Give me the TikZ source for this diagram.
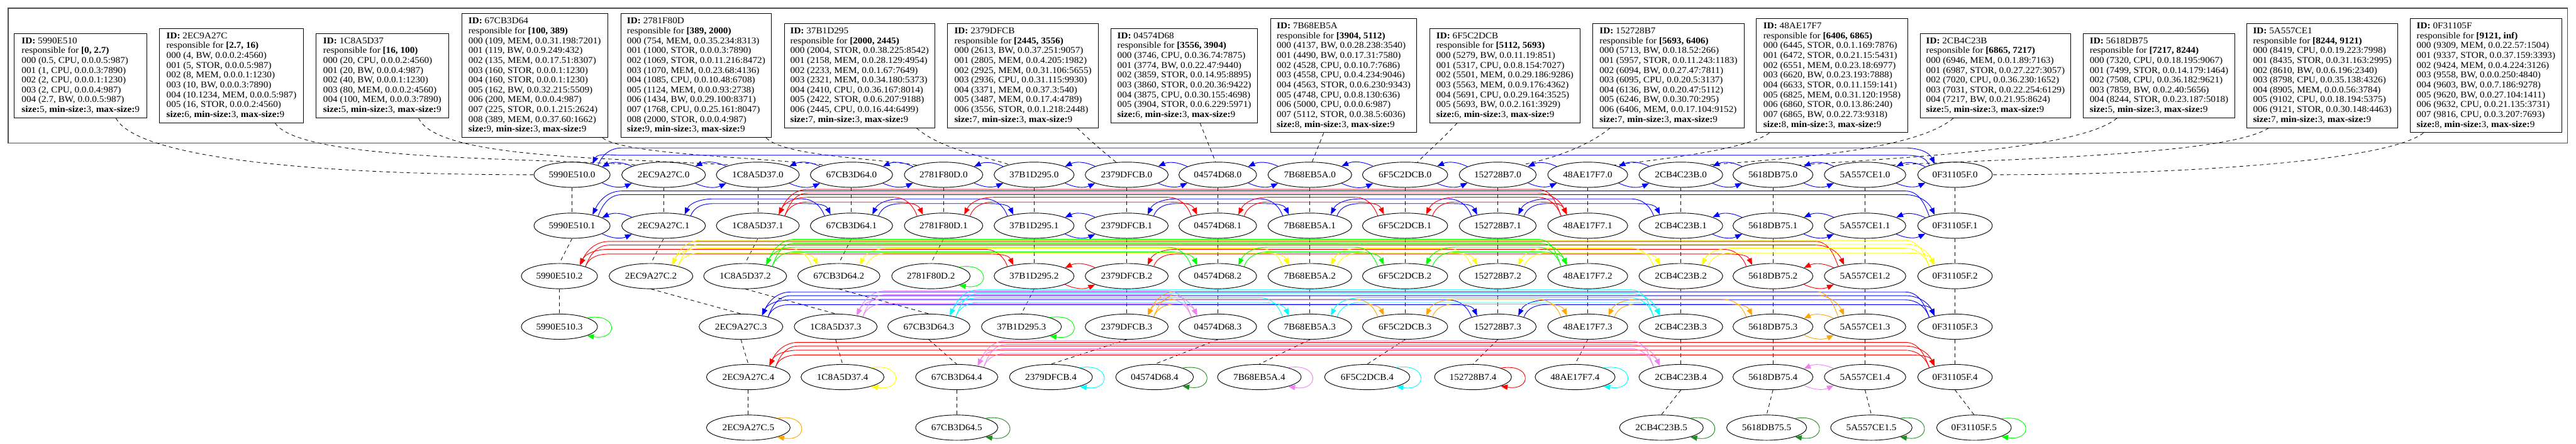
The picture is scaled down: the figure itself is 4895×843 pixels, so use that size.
\documentclass[tikz,border=0pt]{standalone}
\usepackage{fontspec}
\setmainfont{Liberation Serif}[FakeStretch=1.07]
\usetikzlibrary{calc,shapes.geometric,arrows.meta}
\definecolor{gvblue}{RGB}{0,0,255}
\definecolor{gvred}{RGB}{255,0,0}
\definecolor{gvyellow}{RGB}{255,255,0}
\definecolor{gvgreen}{RGB}{0,255,0}
\definecolor{gvcyan}{RGB}{0,255,255}
\definecolor{gvorange}{RGB}{255,165,0}
\definecolor{gvviolet}{RGB}{238,130,238}
\definecolor{gvforest}{RGB}{34,139,34}
\newcommand{\gfont}{\fontsize{17}{18.7}\selectfont}
\newcommand{\szl}[1]{\textbf{size:}#1, \textbf{min-size:}3, \textbf{max-size:}9}
\tikzset{
 nd/.style={ellipse, draw, line width=1.1pt, inner xsep=7pt, inner ysep=2pt, minimum height=48pt, font=\gfont},
 bx/.style={rectangle, draw, line width=1.2pt, align=left, font=\gfont, inner xsep=10pt, inner ysep=4pt},
 ed/.style={line width=1.1pt, -{Triangle[length=13pt,width=10pt]}},
 dl/.style={line width=1pt, dash pattern=on 7pt off 6pt},
 fr/.style={draw=black!70, line width=1.8pt},
}
\newcommand{\adjp}[3]{\draw[ed,#1] (#3.165) to[bend right=25] (#2.15); \draw[ed,#1] (#2.345) to[bend right=25] (#3.195);}
\newcommand{\arcR}[4]{\draw[ed,#1] (#2.20) to[out=70,in=180] ($(#2.center)+(95,#4)$) -- ($(#3.center)+(-95,#4)$) to[out=0,in=115] (#3.152);}
\newcommand{\arcL}[4]{\draw[ed,#1] (#2.160) to[out=110,in=0] ($(#2.center)+(-95,#4)$) -- ($(#3.center)+(95,#4)$) to[out=180,in=65] (#3.28);}
\newcommand{\pairc}[5]{\arcR{#1}{#2}{#3}{#4}\arcL{#1}{#3}{#2}{#5}}
\newcommand{\sloop}[2]{\draw[ed,#1] (#2.18) .. controls +(60,10) and +(60,-10) .. (#2.342);}
\begin{document}
\begin{tikzpicture}[x=1pt,y=1pt]
\useasboundingbox (0,0) rectangle (4895,843);
\draw[fr] (15.7,571.3) rectangle (4879,827.3);
% boxes
\node[bx, minimum width=252.1pt, minimum height=160.6pt] (ba) at (153.3,699.3) {\textbf{ID:} 5990E510\\responsible for \textbf{[0, 2.7)}\\000 (0.5, CPU, 0.0.0.5:987)\\001 (1, CPU, 0.0.0.3:7890)\\002 (2, CPU, 0.0.0.1:1230)\\003 (2, CPU, 0.0.0.4:987)\\004 (2.7, BW, 0.0.0.5:987)\\\szl{5}};
\node[bx, minimum width=273pt, minimum height=179.3pt] (bb) at (439.8,699.3) {\textbf{ID:} 2EC9A27C\\responsible for \textbf{[2.7, 16)}\\000 (4, BW, 0.0.0.2:4560)\\001 (5, STOR, 0.0.0.5:987)\\002 (8, MEM, 0.0.0.1:1230)\\003 (10, BW, 0.0.0.3:7890)\\004 (10.1234, MEM, 0.0.0.5:987)\\005 (16, STOR, 0.0.0.2:4560)\\\szl{6}};
\node[bx, minimum width=252pt, minimum height=160.6pt] (bc) at (726.4,699.3) {\textbf{ID:} 1C8A5D37\\responsible for \textbf{[16, 100)}\\000 (20, CPU, 0.0.0.2:4560)\\001 (20, BW, 0.0.0.4:987)\\002 (40, BW, 0.0.0.1:1230)\\003 (80, MEM, 0.0.0.2:4560)\\004 (100, MEM, 0.0.0.3:7890)\\\szl{5}};
\node[bx, minimum width=277.2pt, minimum height=235.4pt] (bd) at (1016,699.3) {\textbf{ID:} 67CB3D64\\responsible for \textbf{[100, 389)}\\000 (109, MEM, 0.0.31.198:7201)\\001 (119, BW, 0.0.9.249:432)\\002 (135, MEM, 0.0.17.51:8307)\\003 (160, STOR, 0.0.0.1:1230)\\004 (160, STOR, 0.0.0.1:1230)\\005 (162, BW, 0.0.32.215:5509)\\006 (200, MEM, 0.0.0.4:987)\\007 (225, STOR, 0.0.1.215:2624)\\008 (389, MEM, 0.0.37.60:1662)\\\szl{9}};
\node[bx, minimum width=286.1pt, minimum height=235.4pt] (be) at (1322.8,699.3) {\textbf{ID:} 2781F80D\\responsible for \textbf{[389, 2000)}\\000 (754, MEM, 0.0.35.234:8313)\\001 (1000, STOR, 0.0.0.3:7890)\\002 (1069, STOR, 0.0.11.216:8472)\\003 (1070, MEM, 0.0.23.68:4136)\\004 (1085, CPU, 0.0.10.48:6708)\\005 (1124, MEM, 0.0.0.93:2738)\\006 (1434, BW, 0.0.29.100:8371)\\007 (1768, CPU, 0.0.25.161:8047)\\008 (2000, STOR, 0.0.0.4:987)\\\szl{9}};
\node[bx, minimum width=286pt, minimum height=198pt] (bf) at (1633.4,699.3) {\textbf{ID:} 37B1D295\\responsible for \textbf{[2000, 2445)}\\000 (2004, STOR, 0.0.38.225:8542)\\001 (2158, MEM, 0.0.28.129:4954)\\002 (2233, MEM, 0.0.1.67:7649)\\003 (2321, MEM, 0.0.34.180:5373)\\004 (2410, CPU, 0.0.36.167:8014)\\005 (2422, STOR, 0.0.6.207:9188)\\006 (2445, CPU, 0.0.16.44:6499)\\\szl{7}};
\node[bx, minimum width=287pt, minimum height=198pt] (bg) at (1943.9,699.3) {\textbf{ID:} 2379DFCB\\responsible for \textbf{[2445, 3556)}\\000 (2613, BW, 0.0.37.251:9057)\\001 (2805, MEM, 0.0.4.205:1982)\\002 (2925, MEM, 0.0.31.106:5655)\\003 (2936, CPU, 0.0.31.115:9930)\\004 (3371, MEM, 0.0.37.3:540)\\005 (3487, MEM, 0.0.17.4:4789)\\006 (3556, STOR, 0.0.1.218:2448)\\\szl{7}};
\node[bx, minimum width=278.8pt, minimum height=179.3pt] (bh) at (2250.4,699.3) {\textbf{ID:} 04574D68\\responsible for \textbf{[3556, 3904)}\\000 (3746, CPU, 0.0.36.74:7875)\\001 (3774, BW, 0.0.22.47:9440)\\002 (3859, STOR, 0.0.14.95:8895)\\003 (3860, STOR, 0.0.20.36:9422)\\004 (3875, CPU, 0.0.30.155:4698)\\005 (3904, STOR, 0.0.6.229:5971)\\\szl{6}};
\node[bx, minimum width=278.3pt, minimum height=216.7pt] (bi) at (2553.3,699.3) {\textbf{ID:} 7B68EB5A\\responsible for \textbf{[3904, 5112)}\\000 (4137, BW, 0.0.28.238:3540)\\001 (4490, BW, 0.0.17.31:7580)\\002 (4528, CPU, 0.0.10.7:7686)\\003 (4558, CPU, 0.0.4.234:9046)\\004 (4563, STOR, 0.0.6.230:9343)\\005 (4748, CPU, 0.0.8.130:636)\\006 (5000, CPU, 0.0.0.6:987)\\007 (5112, STOR, 0.0.38.5:6036)\\\szl{8}};
\node[bx, minimum width=286.6pt, minimum height=179.3pt] (bj) at (2859.7,699.3) {\textbf{ID:} 6F5C2DCB\\responsible for \textbf{[5112, 5693)}\\000 (5279, BW, 0.0.11.19:851)\\001 (5317, CPU, 0.0.8.154:7027)\\002 (5501, MEM, 0.0.29.186:9286)\\003 (5563, MEM, 0.0.9.176:4362)\\004 (5691, CPU, 0.0.29.164:3525)\\005 (5693, BW, 0.0.2.161:3929)\\\szl{6}};
\node[bx, minimum width=287pt, minimum height=198pt] (bk) at (3170.5,699.3) {\textbf{ID:} 152728B7\\responsible for \textbf{[5693, 6406)}\\000 (5713, BW, 0.0.18.52:266)\\001 (5957, STOR, 0.0.11.243:1183)\\002 (6094, BW, 0.0.27.47:7811)\\003 (6095, CPU, 0.0.20.5:3137)\\004 (6136, BW, 0.0.20.47:5112)\\005 (6246, BW, 0.0.30.70:295)\\006 (6406, MEM, 0.0.17.104:9152)\\\szl{7}};
\node[bx, minimum width=287pt, minimum height=216.7pt] (bl) at (3481.2,699.3) {\textbf{ID:} 48AE17F7\\responsible for \textbf{[6406, 6865)}\\000 (6445, STOR, 0.0.1.169:7876)\\001 (6472, STOR, 0.0.21.15:5431)\\002 (6551, MEM, 0.0.23.18:6977)\\003 (6620, BW, 0.0.23.193:7888)\\004 (6633, STOR, 0.0.11.159:141)\\005 (6825, MEM, 0.0.31.120:1958)\\006 (6860, STOR, 0.0.13.86:240)\\007 (6865, BW, 0.0.22.73:9318)\\\szl{8}};
\node[bx, minimum width=286pt, minimum height=160.6pt] (bm) at (3791.8,699.3) {\textbf{ID:} 2CB4C23B\\responsible for \textbf{[6865, 7217)}\\000 (6946, MEM, 0.0.1.89:7163)\\001 (6987, STOR, 0.0.27.227:3057)\\002 (7020, CPU, 0.0.36.230:1652)\\003 (7031, STOR, 0.0.22.254:6129)\\004 (7217, BW, 0.0.21.95:8624)\\\szl{5}};
\node[bx, minimum width=287.8pt, minimum height=160.6pt] (bn) at (4102.7,699.3) {\textbf{ID:} 5618DB75\\responsible for \textbf{[7217, 8244)}\\000 (7320, CPU, 0.0.18.195:9067)\\001 (7499, STOR, 0.0.14.179:1464)\\002 (7508, CPU, 0.0.36.182:9621)\\003 (7859, BW, 0.0.2.40:5656)\\004 (8244, STOR, 0.0.23.187:5018)\\\szl{5}};
\node[bx, minimum width=287pt, minimum height=198pt] (bo) at (4413,699.3) {\textbf{ID:} 5A557CE1\\responsible for \textbf{[8244, 9121)}\\000 (8419, CPU, 0.0.19.223:7998)\\001 (8435, STOR, 0.0.31.163:2995)\\002 (8610, BW, 0.0.6.196:2340)\\003 (8798, CPU, 0.0.35.138:4326)\\004 (8905, MEM, 0.0.0.56:3784)\\005 (9102, CPU, 0.0.18.194:5375)\\006 (9121, STOR, 0.0.30.148:4463)\\\szl{7}};
\node[bx, minimum width=287pt, minimum height=216.7pt] (bp) at (4724,699.3) {\textbf{ID:} 0F31105F\\responsible for \textbf{[9121, inf)}\\000 (9309, MEM, 0.0.22.57:1504)\\001 (9337, STOR, 0.0.37.159:3393)\\002 (9424, MEM, 0.0.4.224:3126)\\003 (9558, BW, 0.0.0.250:4840)\\004 (9603, BW, 0.0.7.186:9278)\\005 (9620, BW, 0.0.27.104:1411)\\006 (9632, CPU, 0.0.21.135:3731)\\007 (9816, CPU, 0.0.3.207:7693)\\\szl{8}};
% row 0
\node[nd] (a0) at (1087,510.9) {5990E510.0};
\node[nd] (b0) at (1261,510.9) {2EC9A27C.0};
\node[nd] (c0) at (1440,510.9) {1C8A5D37.0};
\node[nd] (d0) at (1618,510.9) {67CB3D64.0};
\node[nd] (e0) at (1793,510.9) {2781F80D.0};
\node[nd] (f0) at (1965,510.9) {37B1D295.0};
\node[nd] (g0) at (2141,510.9) {2379DFCB.0};
\node[nd] (h0) at (2314,510.9) {04574D68.0};
\node[nd] (i0) at (2489,510.9) {7B68EB5A.0};
\node[nd] (j0) at (2670,510.9) {6F5C2DCB.0};
\node[nd] (k0) at (2846,510.9) {152728B7.0};
\node[nd] (l0) at (3017,510.9) {48AE17F7.0};
\node[nd] (m0) at (3194,510.9) {2CB4C23B.0};
\node[nd] (n0) at (3369,510.9) {5618DB75.0};
\node[nd] (o0) at (3544,510.9) {5A557CE1.0};
\node[nd] (p0) at (3715,510.9) {0F31105F.0};
% row 1
\node[nd] (a1) at (1087,414.1) {5990E510.1};
\node[nd] (b1) at (1261,414.1) {2EC9A27C.1};
\node[nd] (c1) at (1440,414.1) {1C8A5D37.1};
\node[nd] (d1) at (1618,414.1) {67CB3D64.1};
\node[nd] (e1) at (1793,414.1) {2781F80D.1};
\node[nd] (f1) at (1965,414.1) {37B1D295.1};
\node[nd] (g1) at (2141,414.1) {2379DFCB.1};
\node[nd] (h1) at (2314,414.1) {04574D68.1};
\node[nd] (i1) at (2489,414.1) {7B68EB5A.1};
\node[nd] (j1) at (2670,414.1) {6F5C2DCB.1};
\node[nd] (k1) at (2846,414.1) {152728B7.1};
\node[nd] (l1) at (3017,414.1) {48AE17F7.1};
\node[nd] (m1) at (3194,414.1) {2CB4C23B.1};
\node[nd] (n1) at (3369,414.1) {5618DB75.1};
\node[nd] (o1) at (3544,414.1) {5A557CE1.1};
\node[nd] (p1) at (3715,414.1) {0F31105F.1};
% row 2
\node[nd] (a2) at (1063,318.3) {5990E510.2};
\node[nd] (b2) at (1237,318.3) {2EC9A27C.2};
\node[nd] (c2) at (1416,318.3) {1C8A5D37.2};
\node[nd] (d2) at (1594,318.3) {67CB3D64.2};
\node[nd] (e2) at (1769,318.3) {2781F80D.2};
\node[nd] (f2) at (1965,318.3) {37B1D295.2};
\node[nd] (g2) at (2141,318.3) {2379DFCB.2};
\node[nd] (h2) at (2314,318.3) {04574D68.2};
\node[nd] (i2) at (2489,318.3) {7B68EB5A.2};
\node[nd] (j2) at (2670,318.3) {6F5C2DCB.2};
\node[nd] (k2) at (2846,318.3) {152728B7.2};
\node[nd] (l2) at (3017,318.3) {48AE17F7.2};
\node[nd] (m2) at (3194,318.3) {2CB4C23B.2};
\node[nd] (n2) at (3369,318.3) {5618DB75.2};
\node[nd] (o2) at (3544,318.3) {5A557CE1.2};
\node[nd] (p2) at (3715,318.3) {0F31105F.2};
% row 3
\node[nd] (a3) at (1063,222.2) {5990E510.3};
\node[nd] (b3) at (1408,222.2) {2EC9A27C.3};
\node[nd] (c3) at (1588,222.2) {1C8A5D37.3};
\node[nd] (d3) at (1765,222.2) {67CB3D64.3};
\node[nd] (f3) at (1941,222.2) {37B1D295.3};
\node[nd] (g3) at (2141,222.2) {2379DFCB.3};
\node[nd] (h3) at (2314,222.2) {04574D68.3};
\node[nd] (i3) at (2489,222.2) {7B68EB5A.3};
\node[nd] (j3) at (2670,222.2) {6F5C2DCB.3};
\node[nd] (k3) at (2846,222.2) {152728B7.3};
\node[nd] (l3) at (3017,222.2) {48AE17F7.3};
\node[nd] (m3) at (3194,222.2) {2CB4C23B.3};
\node[nd] (n3) at (3369,222.2) {5618DB75.3};
\node[nd] (o3) at (3544,222.2) {5A557CE1.3};
\node[nd] (p3) at (3715,222.2) {0F31105F.3};
% row 4
\node[nd] (b4) at (1422,126.5) {2EC9A27C.4};
\node[nd] (c4) at (1601,126.5) {1C8A5D37.4};
\node[nd] (d4) at (1818,126.5) {67CB3D64.4};
\node[nd] (g4) at (1997,126.5) {2379DFCB.4};
\node[nd] (h4) at (2194,126.5) {04574D68.4};
\node[nd] (i4) at (2393,126.5) {7B68EB5A.4};
\node[nd] (j4) at (2598,126.5) {6F5C2DCB.4};
\node[nd] (k4) at (2799,126.5) {152728B7.4};
\node[nd] (l4) at (2993,126.5) {48AE17F7.4};
\node[nd] (m4) at (3194,126.5) {2CB4C23B.4};
\node[nd] (n4) at (3369,126.5) {5618DB75.4};
\node[nd] (o4) at (3544,126.5) {5A557CE1.4};
\node[nd] (p4) at (3715,126.5) {0F31105F.4};
% row 5
\node[nd] (b5) at (1422,30.4) {2EC9A27C.5};
\node[nd] (d5) at (1818,30.4) {67CB3D64.5};
\node[nd] (m5) at (3157,30.4) {2CB4C23B.5};
\node[nd] (n5) at (3357,30.4) {5618DB75.5};
\node[nd] (o5) at (3556,30.4) {5A557CE1.5};
\node[nd] (p5) at (3751,30.4) {0F31105F.5};
% box to level-0 connectors
\draw[dl] ($(ba.south)+(67,0)$) .. controls +(40,-76) and +(-415,0) .. (a0.west);
\draw[dl] ($(bb.south)+(83,0)$) .. controls +(47,-72) and +(-211,14) .. (b0.160);
\draw[dl] ($(bc.south)+(69,0)$) .. controls +(35,-76) and +(-240,14) .. (c0.160);
\draw[dl] ($(bd.south)+(129,0)$) .. controls +(40,-31) and +(-148,16) .. (d0.160);
\draw[dl] ($(be.south)+(133,0)$) .. controls +(34,-34) and +(-95,14) .. (e0.160);
\draw[dl] ($(bf.south)+(108,0)$) .. controls +(49,-42) and +(-43,15) .. (f0.158);
\draw[dl] ($(bg.south)+(103,0)$) .. controls +(28,-27) and +(-15,12) .. (g0.130);
\draw[dl] ($(bh.south)+(30,0)$) -- (h0.100);
\draw[dl] ($(bi.south)+(-38,0)$) -- (i0.80);
\draw[dl] ($(bj.south)+(-91,0)$) .. controls +(-29,-32) and +(12,14) .. (j0.45);
\draw[dl] ($(bk.south)+(-111,0)$) .. controls +(-39,-32) and +(67,14) .. (k0.22);
\draw[dl] ($(bl.south)+(-119,0)$) .. controls +(-42,-30) and +(114,14) .. (l0.20);
\draw[dl] ($(bm.south)+(-80,0)$) .. controls +(-72,-61) and +(157,12) .. (m0.20);
\draw[dl] ($(bn.south)+(-80,0)$) .. controls +(-73,-61) and +(182,14) .. (n0.20);
\draw[dl] ($(bo.south)+(-102,0)$) .. controls +(-81,-52) and +(207,11) .. (o0.20);
\draw[dl] ($(bp.south)+(-119,0)$) .. controls +(-75,-58) and +(313,0) .. (p0.east);
% vertical dashed level links
\foreach \c/\n in {a/2,b/4,c/3,d/4,e/1,f/2,g/3,h/3,i/3,j/3,k/3,l/3,m/4,n/4,o/4,p/4}{
  \foreach \i in {0,...,\n}{
    \pgfmathtruncatemacro{\j}{\i+1}
    \draw[dl] (\c\i.south) -- (\c\j.north);
  }
}
% level 0: blue ring
\foreach \x/\y in {a/b,b/c,c/d,d/e,e/f,f/g,g/h,h/i,i/j,j/k,k/l,l/m,m/n,n/o,o/p}{\adjp{gvblue}{\x0}{\y0}}
\arcR{gvblue}{a0}{p0}{51}\arcL{gvblue}{p0}{a0}{37}
% level 1
\adjp{gvblue}{a1}{b1}
\pairc{gvblue}{b1}{d1}{42}{51}
\pairc{gvblue}{d1}{f1}{42}{51}
\adjp{gvblue}{f1}{g1}
\pairc{gvblue}{g1}{i1}{42}{51}
\pairc{gvblue}{i1}{k1}{42}{51}
\pairc{gvblue}{k1}{m1}{42}{51}
\adjp{gvblue}{m1}{n1}
\adjp{gvblue}{n1}{o1}
\adjp{gvblue}{o1}{p1}
\pairc{gvblue}{a1}{p1}{59}{66}
\pairc{gvred}{c1}{e1}{45}{54}
\pairc{gvred}{e1}{h1}{45}{54}
\pairc{gvred}{h1}{j1}{45}{54}
\pairc{gvred}{j1}{l1}{45}{54}
\pairc{gvred}{c1}{l1}{62}{69}
% level 2
\pairc{gvred}{a2}{f2}{42}{51}
\adjp{gvred}{f2}{g2}
\pairc{gvred}{g2}{n2}{42}{51}
\adjp{gvred}{n2}{o2}
\pairc{gvred}{a2}{o2}{59}{66}
\pairc{gvyellow}{b2}{d2}{44}{53}
\pairc{gvyellow}{d2}{i2}{44}{53}
\pairc{gvyellow}{i2}{k2}{44}{53}
\pairc{gvyellow}{k2}{m2}{44}{53}
\pairc{gvyellow}{m2}{p2}{44}{53}
\pairc{gvyellow}{b2}{p2}{61}{68}
\pairc{gvgreen}{c2}{h2}{46}{55}
\pairc{gvgreen}{h2}{j2}{46}{55}
\pairc{gvgreen}{j2}{l2}{46}{55}
\pairc{gvgreen}{c2}{l2}{63}{70}
\sloop{gvgreen}{e2}
% level 3
\pairc{gvblue}{b3}{k3}{42}{51}
\pairc{gvblue}{k3}{p3}{42}{51}
\pairc{gvblue}{b3}{p3}{59}{66}
\pairc{gvviolet}{c3}{h3}{44}{53}
\pairc{gvviolet}{c3}{h3}{61}{68}
\pairc{gvcyan}{d3}{i3}{46}{55}
\pairc{gvcyan}{i3}{m3}{46}{55}
\pairc{gvcyan}{d3}{m3}{63}{70}
\pairc{gvorange}{g3}{j3}{43}{52}
\pairc{gvorange}{j3}{l3}{43}{52}
\pairc{gvorange}{l3}{n3}{43}{52}
\adjp{gvorange}{n3}{o3}
\pairc{gvorange}{g3}{o3}{60}{67}
\sloop{gvgreen}{a3}
\sloop{gvgreen}{f3}
% level 4
\pairc{gvred}{b4}{p4}{42}{51}
\pairc{gvred}{b4}{p4}{59}{66}
\pairc{gvviolet}{d4}{m4}{45}{54}
\pairc{gvviolet}{d4}{m4}{62}{69}
\adjp{gvviolet}{n4}{o4}
\sloop{gvyellow}{c4}
\sloop{gvcyan}{g4}
\sloop{gvforest}{h4}
\sloop{gvviolet}{i4}
\sloop{gvcyan}{j4}
\sloop{gvred}{k4}
\sloop{gvcyan}{l4}
% level 5
\sloop{gvorange}{b5}
\sloop{gvforest}{d5}
\sloop{gvforest}{m5}
\sloop{gvforest}{n5}
\sloop{gvforest}{o5}
\sloop{gvgreen}{p5}
\end{tikzpicture}
\end{document}
